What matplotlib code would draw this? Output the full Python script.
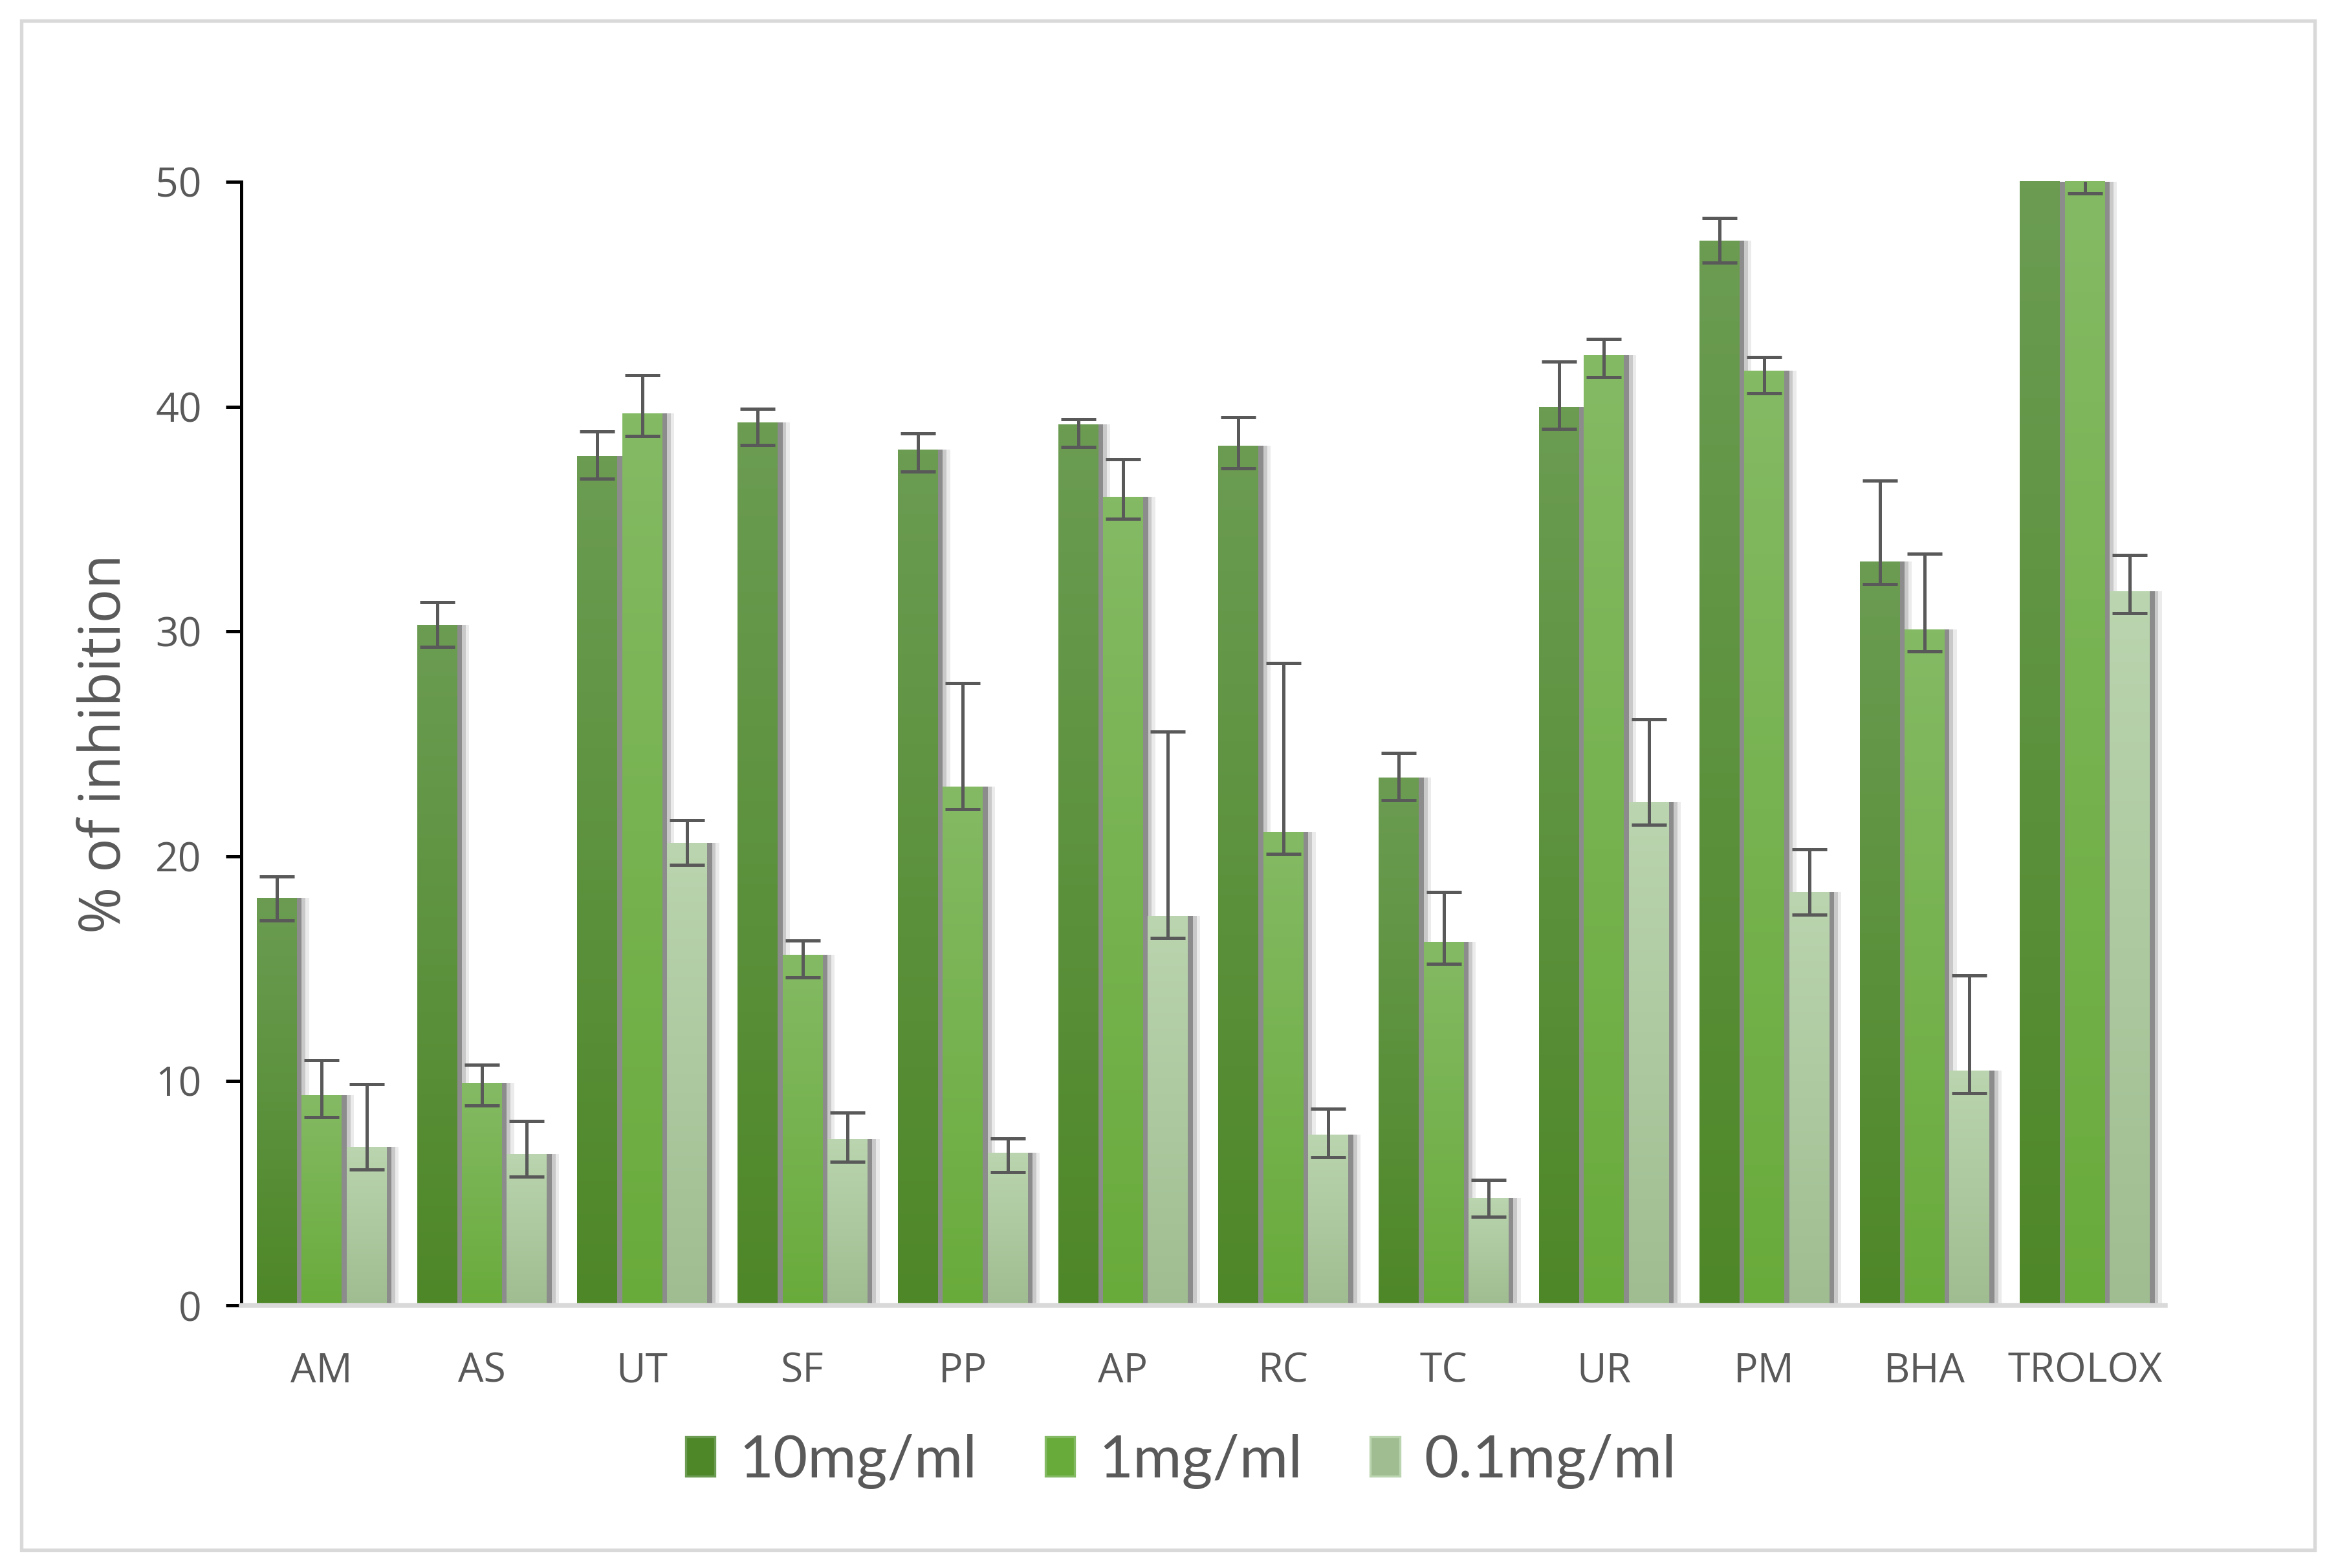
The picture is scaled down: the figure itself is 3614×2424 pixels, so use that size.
import numpy as np
import matplotlib
matplotlib.use('Agg')
import matplotlib.pyplot as plt
import matplotlib.patheffects as pe
from matplotlib.colors import LinearSegmentedColormap
from matplotlib.patches import Rectangle, Patch

# data
categories = ['AM', 'AS', 'UT', 'SF', 'PP', 'AP', 'RC', 'TC', 'UR', 'PM', 'BHA', 'TROLOX']
series_names = ['10mg/ml', '1mg/ml', '0.1mg/ml']

# bar heights
vals_10 = [18.15, 30.3, 37.8, 39.3, 38.1, 39.2, 38.26, 23.5, 40.0, 47.4, 33.1, 92.0]
vals_1 = [9.38, 9.9, 39.7, 15.6, 23.1, 36.0, 21.09, 16.2, 42.3, 41.6, 30.1, 50.5]
vals_01 = [7.07, 6.74, 20.6, 7.4, 6.8, 17.35, 7.6, 4.8, 22.4, 18.4, 10.45, 31.8]

# error bars are not symmetric: small fixed minus, larger plus
lo_10 = [1.0, 1.0, 1.0, 1.0, 1.0, 1.0, 1.0, 1.0, 1.0, 1.0, 1.0, 1.0]
hi_10 = [0.95, 1.0, 1.1, 0.6, 0.7, 0.25, 1.27, 1.1, 2.0, 1.0, 3.6, 1.5]
lo_1 = [1.0, 1.0, 1.0, 1.0, 1.0, 1.0, 1.0, 1.0, 1.0, 1.0, 1.0, 1.0]
hi_1 = [1.54, 0.83, 1.7, 0.65, 4.6, 1.66, 7.5, 2.2, 0.7, 0.6, 3.35, 1.0]
lo_01 = [1.0, 1.0, 1.0, 1.0, 0.85, 1.0, 1.0, 0.85, 1.0, 1.0, 1.0, 1.0]
hi_01 = [2.79, 1.47, 1.0, 1.2, 0.65, 8.2, 1.15, 0.8, 3.7, 1.9, 4.24, 1.6]

# (bottom colour, top colour) for each series gradient
grad_colors = [('#4e8728', '#6b9c52'),
               ('#69ab3b', '#84ba64'),
               ('#9fbd90', '#bad5af')]

all_vals = [vals_10, vals_1, vals_01]
all_errs = [(lo_10, hi_10), (lo_1, hi_1), (lo_01, hi_01)]

YMAX = 50

fig = plt.figure(figsize=(3614 / 300, 2424 / 300), dpi=300)
ax = fig.add_axes([0.1033, 0.1673, 0.8227, 0.7167])

# light grey frame round the whole chart
fig.patches.append(Rectangle((0.009, 0.0114), 0.981, 0.9753, transform=fig.transFigure,
                             fill=False, edgecolor='#d9d9d9', linewidth=1.3, zorder=0))

x = np.arange(len(categories))
step = 0.28
width = 0.25
grad = np.linspace(0, 1, 256).reshape(-1, 1)

shadow = [pe.SimplePatchShadow(offset=(4.5, 0), shadow_rgbFace='#000000', alpha=0.08),
          pe.SimplePatchShadow(offset=(3.2, 0), shadow_rgbFace='#000000', alpha=0.14),
          pe.SimplePatchShadow(offset=(1.8, 0), shadow_rgbFace='#000000', alpha=0.30),
          pe.Normal()]

for i, (vals, (lo, hi)) in enumerate(zip(all_vals, all_errs)):
    pos = x + (i - 1) * step
    cmap = LinearSegmentedColormap.from_list('s%d' % i, list(grad_colors[i]))
    bars = ax.bar(pos, vals, width=width, color=grad_colors[i][0], edgecolor='none',
                  zorder=2, path_effects=shadow)
    for b in bars:
        top = min(b.get_height(), YMAX)
        im = ax.imshow(grad, extent=[b.get_x(), b.get_x() + b.get_width(), 0, top],
                       origin='lower', cmap=cmap, aspect='auto', zorder=2.5,
                       interpolation='bicubic')
        im.set_clip_path(b)
    ax.errorbar(pos, vals, yerr=[lo, hi], fmt='none', ecolor='#595959', elinewidth=1.2,
                capsize=6.5, capthick=1.2, zorder=4)

ax.set_xlim(-0.5, len(categories) - 0.5)
ax.set_ylim(0, YMAX)
ax.set_yticks([0, 10, 20, 30, 40, 50])
ax.set_xticks(x)
ax.set_xticklabels(categories)

for s in ['top', 'right']:
    ax.spines[s].set_visible(False)
ax.spines['left'].set_color('black')
ax.spines['left'].set_linewidth(1.2)
ax.spines['bottom'].set_color('#d9d9d9')
ax.spines['bottom'].set_linewidth(1.8)

ax.tick_params(axis='y', length=5.8, width=1.2, color='black', pad=9,
               labelsize=15, labelcolor='#595959')
ax.tick_params(axis='x', length=0, pad=17, labelsize=15, labelcolor='#595959')
for lab in ax.get_xticklabels() + ax.get_yticklabels():
    lab.set_fontfamily('Open Sans')

ax.set_ylabel('% of inhibition', fontsize=21, color='#595959', family='Open Sans', labelpad=8)

# legend swatches: plain mid-tone squares, no shadow
handles = [Patch(facecolor=c[0], edgecolor=c[1], linewidth=0.8) for c in grad_colors]
fig.legend(handles=handles, labels=series_names, loc='center', bbox_to_anchor=(0.505, 0.068),
           ncol=3, frameon=False, prop={'family': 'Lato', 'size': 22},
           labelcolor='#595959', handlelength=0.5, handleheight=0.65,
           handletextpad=0.4, columnspacing=1.15)

fig.savefig('out.png', dpi=300)
